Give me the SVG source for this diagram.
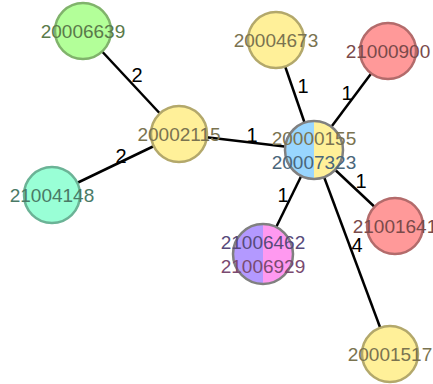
<svg xmlns="http://www.w3.org/2000/svg" width="433" height="384" viewBox="0 0 433 384">
<style>
.edge{stroke:#000;stroke-width:2.5;fill:none}
.el{font-family:"Liberation Sans",Arial,sans-serif;font-size:20px;fill:#000;text-anchor:middle}
.nt{font-family:"Liberation Sans",Arial,sans-serif;font-size:19px;text-anchor:middle}
.yel{fill:#fff099;stroke:#b3a86b;stroke-width:2.5}
.grn{fill:#b3ff99;stroke:#80b36b;stroke-width:2.5}
.tea{fill:#99ffd6;stroke:#6bb396;stroke-width:2.5}
.red{fill:#ff9999;stroke:#b36b6b;stroke-width:2.5}
.ring{fill:none;stroke:#808080;stroke-width:2.5}
.tyel{fill:#7a7350}
.tgrn{fill:#5a7a4a}
.ttea{fill:#4a7a66}
.tred{fill:#7a4a4a}
.tblu{fill:#4a667a}
.tpur{fill:#574a7a}
.tpnk{fill:#7a4a70}
</style>
<rect width="433" height="384" fill="#fff"/>
<g id="edges">
<line class="edge" x1="83" y1="31" x2="179" y2="134"/>
<line class="edge" x1="52" y1="195" x2="179" y2="134"/>
<line class="edge" x1="179" y1="134" x2="314" y2="150"/>
<line class="edge" x1="314" y1="150" x2="276" y2="40"/>
<line class="edge" x1="314" y1="150" x2="388" y2="51"/>
<line class="edge" x1="314" y1="150" x2="395" y2="226"/>
<line class="edge" x1="314" y1="150" x2="263" y2="254"/>
<line class="edge" x1="314" y1="150" x2="390" y2="354"/>
<text class="el" x="137" y="82">2</text>
<text class="el" x="121" y="163">2</text>
<text class="el" x="252" y="142">1</text>
<text class="el" x="303" y="93">1</text>
<text class="el" x="347" y="100">1</text>
<text class="el" x="361" y="188">1</text>
<text class="el" x="283" y="202">1</text>
<text class="el" x="357" y="252">4</text>
</g>
<g id="n20006639">
<circle class="grn" cx="83" cy="31" r="28"/>
<text class="nt tgrn" x="83" y="38">20006639</text>
</g>
<g id="n20002115">
<circle class="yel" cx="179" cy="134" r="28"/>
<text class="nt tyel" x="179" y="141">20002115</text>
</g>
<g id="n21004148">
<circle class="tea" cx="52" cy="195" r="28"/>
<text class="nt ttea" x="52" y="202">21004148</text>
</g>
<g id="n20004673">
<circle class="yel" cx="276" cy="40" r="28"/>
<text class="nt tyel" x="276" y="47">20004673</text>
</g>
<g id="n21000900">
<circle class="red" cx="388" cy="51" r="28"/>
<text class="nt tred" x="388" y="58">21000900</text>
</g>
<g id="n20000155_20007323">
<path d="M314,121 A29,29 0 0,0 314,179 Z" fill="#99d6ff"/>
<path d="M314,121 A29,29 0 0,1 314,179 Z" fill="#fff099"/>
<circle class="ring" cx="314" cy="150" r="29"/>
<text class="nt tyel" x="314" y="145">20000155</text>
<text class="nt tblu" x="314" y="169">20007323</text>
</g>
<g id="n21001641">
<circle class="red" cx="395" cy="226" r="28"/>
<text class="nt tred" x="395" y="233">21001641</text>
</g>
<g id="n21006462_21006929">
<path d="M263,224 A30,30 0 0,0 263,284 Z" fill="#b399ff"/>
<path d="M263,224 A30,30 0 0,1 263,284 Z" fill="#ff99f0"/>
<circle class="ring" cx="263" cy="254" r="30"/>
<text class="nt tpur" x="263" y="249">21006462</text>
<text class="nt tpnk" x="263" y="273">21006929</text>
</g>
<g id="n20001517">
<circle class="yel" cx="390" cy="354" r="28"/>
<text class="nt tyel" x="390" y="361">20001517</text>
</g>
</svg>
